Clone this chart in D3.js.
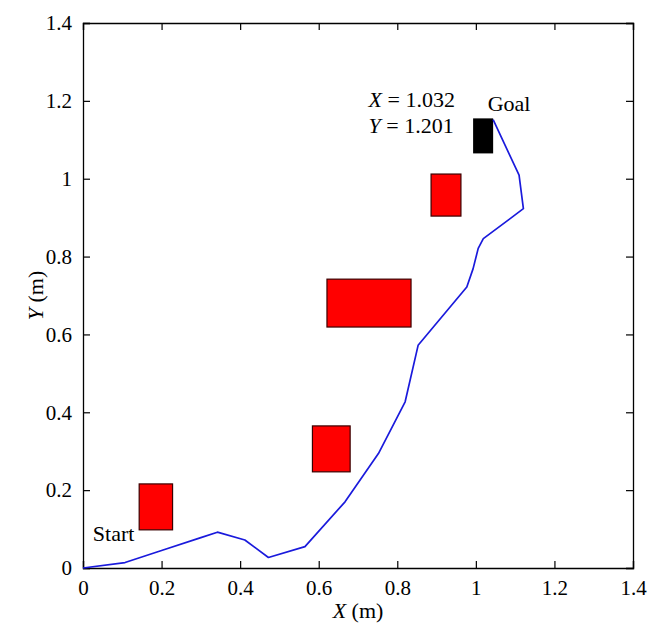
<!DOCTYPE html>
<html>
<head>
<meta charset="utf-8">
<script src="https://cdn.jsdelivr.net/npm/d3@7"></script>
<style>
  body { margin: 0; background: #fff; }
  text { font-family: "Liberation Serif", "DejaVu Serif", serif; }
</style>
</head>
<body>
<div id="chart"></div>
<script>
// Robot path (metres)
const pathX = [0, 0.107, 0.2, 0.3, 0.342, 0.412, 0.472, 0.565, 0.667, 0.752, 0.820, 0.853, 0.977, 0.993, 1.006, 1.019, 1.121, 1.110, 1.044];
const pathY = [0, 0.014, 0.045, 0.078, 0.092, 0.072, 0.027, 0.055, 0.170, 0.294, 0.427, 0.572, 0.722, 0.769, 0.821, 0.846, 0.923, 1.009, 1.152];

// Obstacles: [x0, x1] and [y0, y1]
const obsX0 = [0.143, 0.584, 0.621, 0.886];
const obsX1 = [0.228, 0.680, 0.835, 0.962];
const obsY0 = [0.098, 0.247, 0.619, 0.904];
const obsY1 = [0.216, 0.365, 0.742, 1.012];

// Goal block
const goalX = [0.993, 1.044];
const goalY = [1.065, 1.155];

const tickValues = [0, 0.2, 0.4, 0.6, 0.8, 1, 1.2, 1.4];

const margin = { top: 23, right: 27, bottom: 75, left: 83 };
const width = 660 - margin.left - margin.right;
const height = 643 - margin.top - margin.bottom;

const svg = d3.select("#chart")
  .append("svg")
  .attr("width", 660)
  .attr("height", 643)
  .append("g")
  .attr("transform", `translate(${margin.left},${margin.top})`);

const x = d3.scaleLinear().domain([0, 1.4]).range([0, width]);
const y = d3.scaleLinear().domain([0, 1.4]).range([height, 0]);

const fmt = d => d === 0 ? "0" : d === 1 ? "1" : d3.format(".1f")(d);

// Axes, ticks pointing inward on all four sides
const xBottom = svg.append("g")
  .attr("transform", `translate(0,${height})`)
  .call(d3.axisBottom(x).tickValues(tickValues).tickSize(-7).tickPadding(12).tickFormat(fmt));
const xTop = svg.append("g")
  .call(d3.axisTop(x).tickValues(tickValues).tickSize(-7).tickFormat(""));
const yLeft = svg.append("g")
  .call(d3.axisLeft(y).tickValues(tickValues).tickSize(-7).tickPadding(11).tickFormat(fmt));
const yRight = svg.append("g")
  .attr("transform", `translate(${width},0)`)
  .call(d3.axisRight(y).tickValues(tickValues).tickSize(-7).tickFormat(""));

[xBottom, xTop, yLeft, yRight].forEach(g => {
  g.select(".domain").attr("stroke", "#000").attr("stroke-width", 1.3);
  g.selectAll(".tick line").attr("stroke", "#000").attr("stroke-width", 1.2);
  g.selectAll(".tick text")
    .attr("font-size", 21)
    .attr("fill", "#000");
});

// Obstacles
svg.selectAll(".obs")
  .data(obsX0.map((d, i) => i))
  .enter()
  .append("rect")
  .attr("x", i => x(obsX0[i]))
  .attr("y", i => y(obsY1[i]))
  .attr("width", i => x(obsX1[i]) - x(obsX0[i]))
  .attr("height", i => y(obsY0[i]) - y(obsY1[i]))
  .attr("fill", "#ff0000")
  .attr("stroke", "#3a0000")
  .attr("stroke-width", 1.2);

// Goal
svg.append("rect")
  .attr("x", x(goalX[0]))
  .attr("y", y(goalY[1]))
  .attr("width", x(goalX[1]) - x(goalX[0]))
  .attr("height", y(goalY[0]) - y(goalY[1]))
  .attr("fill", "#000");

// Path
const line = d3.line()
  .x(d => x(d[0]))
  .y(d => y(d[1]));

svg.append("path")
  .datum(pathX.map((d, i) => [d, pathY[i]]))
  .attr("fill", "none")
  .attr("stroke", "#1a1adc")
  .attr("stroke-width", 1.7)
  .attr("stroke-linejoin", "round")
  .attr("d", line);

// Annotations
svg.append("text")
  .attr("x", x(0.025))
  .attr("y", y(0.07))
  .attr("font-size", 22)
  .text("Start");

svg.append("text")
  .attr("x", x(1.03))
  .attr("y", y(1.175))
  .attr("font-size", 22)
  .text("Goal");

const xy = svg.append("text")
  .attr("x", x(0.727))
  .attr("y", y(1.185))
  .attr("font-size", 22);
xy.append("tspan").attr("font-style", "italic").text("X");
xy.append("tspan").text(" = 1.032");

const yy = svg.append("text")
  .attr("x", x(0.727))
  .attr("y", y(1.118))
  .attr("font-size", 22);
yy.append("tspan").attr("font-style", "italic").text("Y");
yy.append("tspan").text(" = 1.201");

// Axis labels
const xl = svg.append("text")
  .attr("x", width / 2)
  .attr("y", height + 50)
  .attr("text-anchor", "middle")
  .attr("font-size", 22);
xl.append("tspan").attr("font-style", "italic").text("X");
xl.append("tspan").text(" (m)");

const yl = svg.append("text")
  .attr("transform", `translate(-40,${height / 2}) rotate(-90)`)
  .attr("text-anchor", "middle")
  .attr("font-size", 22);
yl.append("tspan").attr("font-style", "italic").text("Y");
yl.append("tspan").text(" (m)");
</script>
</body>
</html>
